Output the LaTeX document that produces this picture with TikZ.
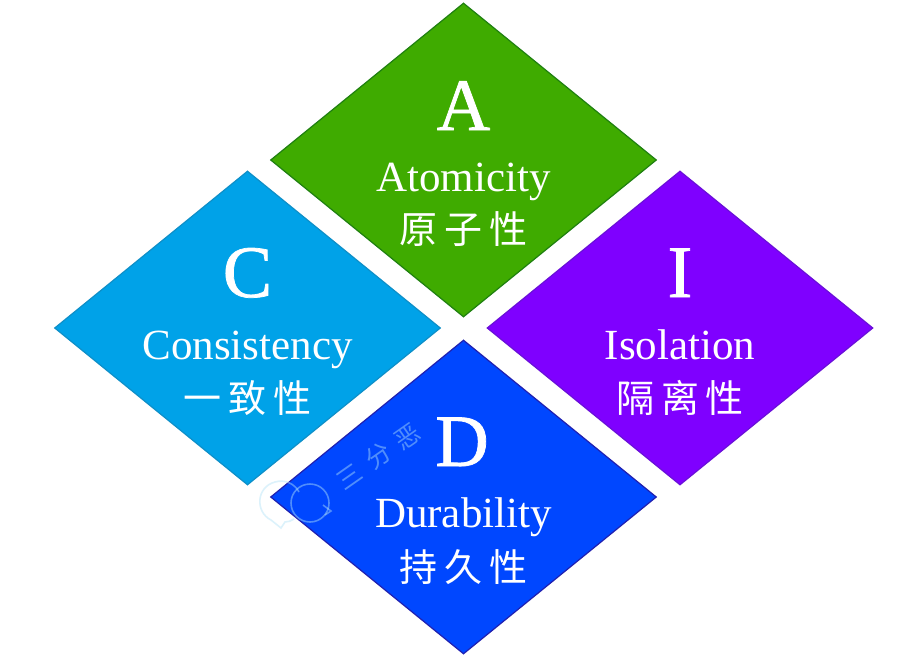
\documentclass[tikz,border=0pt]{standalone}
\usepackage{fontspec}
\usetikzlibrary{shapes.geometric}
\setmainfont{Liberation Serif}
\newfontfamily\cjk{Noto Sans CJK SC}
\definecolor{cA}{HTML}{3FAB00}\definecolor{bA}{HTML}{1F8010}
\definecolor{cC}{HTML}{00A2E8}\definecolor{bC}{HTML}{0E8FC8}
\definecolor{cI}{HTML}{7F00FF}\definecolor{bI}{HTML}{6A10D8}
\definecolor{cD}{HTML}{0047FF}\definecolor{bD}{HTML}{2020B0}
\tikzset{
  rhomb/.style={shape=diamond,draw=#1,line width=1.2pt,inner sep=0pt,minimum width=386pt,minimum height=314pt,aspect=1.23},
  bigletter/.style={text=white,inner sep=0pt,font=\fontsize{74}{74}\selectfont\addfontfeature{FakeBold=1},anchor=base},
  word/.style={text=white,inner sep=0pt,font=\fontsize{43}{43}\selectfont,anchor=base},
  zh/.style={text=white,inner sep=0pt,font=\cjk\fontsize{38}{38}\selectfont,anchor=base},
  wmline/.style={draw=cC!30,line width=1.6pt,opacity=.45},
  wmtext/.style={text=cC!30,opacity=.45,inner sep=0pt,rotate=35,font=\cjk\fontsize{25}{25}\selectfont}
}
\newcommand{\zhgap}{\hspace{7pt}}
\begin{document}
\begin{tikzpicture}[x=1pt,y=-1pt]
\useasboundingbox (0,0) rectangle (912,666);
\fill[white] (0,0) rectangle (912,666);
\node[rhomb=bA,fill=cA] (A) at (463.5,160) {};
\node[rhomb=bC,fill=cC] (C) at (247.5,328) {};
\node[rhomb=bI,fill=cI] (I) at (680,328) {};
\node[rhomb=bD,fill=cD] (D) at (463.5,497) {};
% watermark
\draw[wmline] (271,520) .. controls (255,512) and (256,487) .. (275,482) .. controls (285,479) and (295,484) .. (299,492);
\draw[wmline] (271,520) -- (281,528) -- (285,522) .. controls (288,522) and (291,521) .. (294,519);
\draw[wmline] (310,503) circle (19);
\draw[wmline] (325,515) -- (331,511) -- (323,505);
\node[wmtext] (wm1) at (349,477) {三};
\node[wmtext] (wm2) at (378,456) {分};
\node[wmtext] (wm3) at (407,437) {恶};
% text
\node[bigletter] (la) at (463.5,130) {A};
\node[word] (wa) at (463.5,191) {Atomicity};
\node[zh] (za) at (463.5,243) {原\zhgap 子\zhgap 性};
\node[bigletter] (lc) at (247.5,297) {C};
\node[word] (wc) at (247.5,359) {Consistency};
\node[zh] (zc) at (247.5,412) {一\zhgap 致\zhgap 性};
\node[bigletter] (li) at (680,297) {I};
\node[word] (wi) at (680,359) {Isolation};
\node[zh] (zi) at (680,412) {隔\zhgap 离\zhgap 性};
\node[bigletter] (ld) at (462,466) {D};
\node[word] (wd) at (463.5,527) {Durability};
\node[zh] (zd) at (463.5,581) {持\zhgap 久\zhgap 性};
\end{tikzpicture}
\end{document}
